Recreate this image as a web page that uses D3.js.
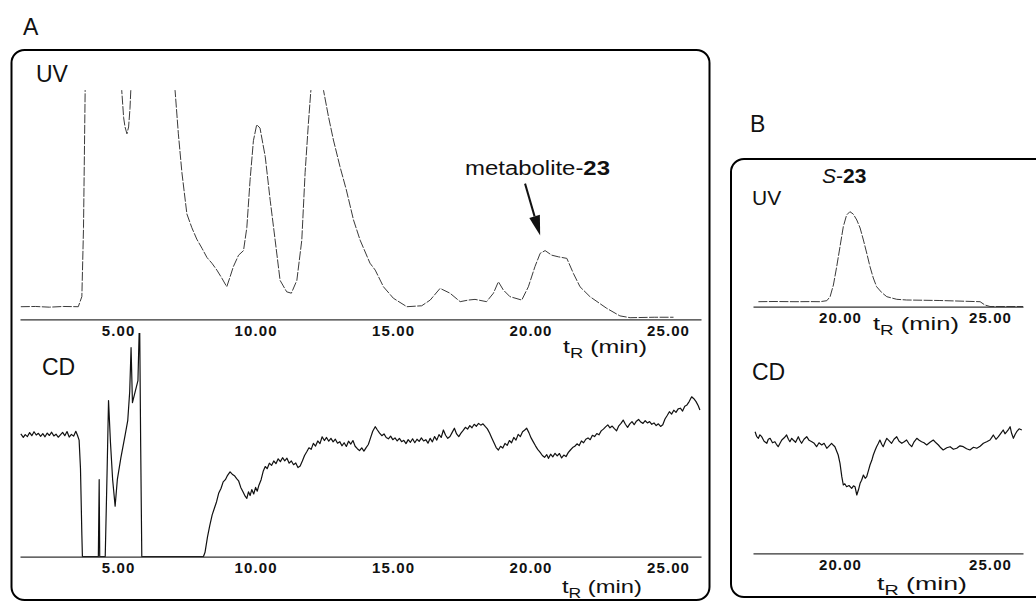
<!DOCTYPE html>
<html>
<head>
<meta charset="utf-8">
<script src="https://cdn.jsdelivr.net/npm/d3@7"></script>
<style>
  body { margin: 0; background: #fff; }
  svg { display: block; font-family: Arial, "Liberation Sans", Helvetica, sans-serif; }
</style>
</head>
<body>
<svg id="chart" width="1036" height="603"></svg>
<script>
// tick labels (min)
const ticksA = [5, 10, 15, 20, 25];
const ticksB = [20, 25];

// panel A, UV trace: [tR (min), signal]  (signal > 100 is off scale)
const uvA = [[1.46,5.5],[2.0,5.6],[2.5,5.3],[3.0,5.6],[3.55,5.5],[3.68,9.9],[3.74,40],[3.80,100],[3.85,160],[4.3,300],
  [5.0,200],[5.13,100],[5.20,88],[5.25,84],[5.32,81],[5.38,84],[5.43,92],[5.46,100],[5.6,200],[6.2,300],[6.9,160],
  [7.07,100],[7.19,81],[7.32,64],[7.5,46],[7.68,40],[7.86,35],[8.05,31],[8.23,27],[8.41,24.5],[8.59,21.5],[8.77,18],
  [8.95,14.2],[9.07,18.5],[9.19,23],[9.38,28],[9.56,30],[9.68,40],[9.80,61],[9.92,78],[10.04,85],[10.16,83.5],
  [10.35,71],[10.53,52],[10.71,34.6],[10.89,17],[11.13,12],[11.3,11.4],[11.5,17],[11.68,34.6],[11.8,64],[11.92,85.6],
  [12.01,100],[12.2,130],[12.4,110],[12.47,100],[12.65,88.5],[12.83,78.3],[13.07,66.6],[13.3,56.5],[13.56,43.4],
  [13.8,34.6],[14.16,24.5],[14.35,21.5],[14.65,14.2],[15.01,9.2],[15.5,5.5],[16.04,5.9],[16.35,8.4],[16.71,13.5],
  [17.07,11.4],[17.44,7.7],[17.74,8.4],[17.98,8.7],[18.4,7.7],[18.65,11.4],[18.83,16.4],[19.01,12.8],[19.25,9.9],
  [19.68,8.4],[19.92,14.2],[20.16,23],[20.35,28.8],[20.53,30],[20.77,28],[21.01,27.3],[21.32,26.6],[21.56,20],
  [21.8,14.2],[22.16,9.9],[22.77,4.8],[23.25,1.5],[23.62,0.7],[24.5,0.9],[25.2,0.9]];

// panel A, CD trace: [tR (min), signal]
const cdA = [[1.46,55.8],[1.55,54.2],[1.62,55.5],[1.70,54.6],[1.78,56.4],[1.86,55.0],[1.94,56.8],[2.02,55.3],[2.10,56.1],
  [2.18,54.7],[2.26,55.9],[2.34,54.5],[2.42,56.2],[2.50,55.1],[2.58,56.6],[2.66,54.9],[2.74,55.7],[2.82,54.3],[2.90,55.4],
  [2.98,56.5],[3.06,55.0],[3.14,56.9],[3.22,54.4],[3.30,55.6],[3.38,54.8],[3.46,57.0],[3.52,55.2],[3.58,53.0],[3.63,40.0],
  [3.68,10],[3.70,0],[4.28,0],[4.31,35],[4.33,0],[4.53,0],[4.60,40],[4.65,71],[4.72,52],[4.80,35],[4.89,23],[4.97,35],
  [5.10,45],[5.25,55],[5.35,62],[5.42,75],[5.47,95],[5.52,70],[5.72,80],[5.78,110],[5.82,50],[5.86,0],[8.10,0],
  [8.16,2],[8.25,9],[8.33,14],[8.42,19],[8.50,22],[8.58,25],[8.66,29],[8.74,31],[8.82,34],[8.90,35],[8.98,37],[9.07,38.6],
  [9.15,37.5],[9.23,36.8],[9.31,35.5],[9.38,34.5],[9.46,31.5],[9.54,29.5],[9.62,27.5],[9.68,26.5],[9.74,29.5],[9.80,27.8],
  [9.86,30.5],[9.93,28.5],[10.0,31.5],[10.06,29.8],[10.12,32.5],[10.20,35],[10.28,39],[10.35,41],[10.42,40],[10.50,42.5],
  [10.58,41.5],[10.66,43.5],[10.74,42.3],[10.82,44.5],[10.90,43.2],[10.98,45],[11.06,43.6],[11.14,44.8],[11.22,42.5],
  [11.30,43.5],[11.38,41.8],[11.46,42.6],[11.54,40.5],[11.62,41.2],[11.70,43.5],[11.78,46],[11.86,47.7],[11.94,49.5],
  [12.02,48.8],[12.10,51.5],[12.18,50.3],[12.26,52.6],[12.34,51.4],[12.42,54.5],[12.50,52.8],[12.58,54.2],[12.66,52.5],
  [12.74,53.8],[12.82,52.2],[12.90,53.4],[12.98,51.6],[13.06,52.3],[13.14,50.4],[13.22,51.8],[13.30,50.1],[13.38,52.5],
  [13.46,51.2],[13.54,52.8],[13.62,50.2],[13.70,49.1],[13.78,48.2],[13.86,49.5],[13.94,48.0],[14.02,49.6],[14.10,51],
  [14.18,54],[14.26,57],[14.35,59.1],[14.43,57.6],[14.51,56.2],[14.59,55.0],[14.67,55.8],[14.75,54.2],[14.83,53.6],
  [14.91,54.8],[14.99,53.2],[15.07,54.0],[15.15,52.6],[15.23,53.8],[15.31,52.3],[15.39,52.9],[15.47,51.4],[15.55,53.2],
  [15.63,52.0],[15.71,53.6],[15.79,51.8],[15.87,53.4],[15.95,52.4],[16.03,54.0],[16.11,52.6],[16.19,53.2],[16.27,51.6],
  [16.35,53.8],[16.43,52.2],[16.51,54.6],[16.59,53.0],[16.67,55.5],[16.75,54.2],[16.83,57.6],[16.91,55.2],[16.99,53.8],
  [17.07,54.6],[17.15,56.5],[17.23,58.4],[17.31,55.8],[17.39,54.6],[17.47,56.2],[17.55,57.4],[17.63,58.8],[17.71,58.0],
  [17.79,59.6],[17.87,58.6],[17.95,60.2],[18.03,59.3],[18.11,60.6],[18.19,59.8],[18.27,60.4],[18.35,59.2],[18.43,58.1],
  [18.51,56.2],[18.59,54.0],[18.67,51.8],[18.75,49.6],[18.83,48.5],[18.91,50.2],[18.99,49.4],[19.07,51.5],[19.15,50.6],
  [19.23,52.8],[19.31,51.8],[19.39,54.2],[19.47,53.0],[19.55,55.6],[19.63,54.6],[19.71,56.8],[19.79,57.6],[19.86,58.4],
  [19.94,56.4],[20.02,54.0],[20.10,52.2],[20.18,50.4],[20.26,48.8],[20.35,47.4],[20.43,46.0],[20.51,45.2],[20.59,46.4],
  [20.65,44.7],[20.73,46.6],[20.81,45.4],[20.89,47.0],[20.97,45.8],[21.05,46.9],[21.13,44.9],[21.21,46.2],[21.29,45.5],
  [21.37,47.3],[21.45,48.5],[21.53,49.6],[21.61,50.2],[21.69,51.3],[21.77,50.5],[21.85,52.6],[21.93,51.8],[22.01,53.4],
  [22.09,54.0],[22.17,53.2],[22.25,55.2],[22.33,54.6],[22.41,56.0],[22.49,55.4],[22.57,57.2],[22.65,58.0],[22.73,59.0],
  [22.81,59.9],[22.89,58.6],[22.97,59.4],[23.05,58.2],[23.13,57.2],[23.21,59.5],[23.29,60.6],[23.37,62.1],[23.45,60.2],
  [23.53,58.8],[23.61,60.4],[23.69,61.4],[23.77,60.0],[23.85,61.6],[23.93,62.4],[24.01,61.2],[24.09,60.6],[24.17,61.8],
  [24.25,60.8],[24.33,61.4],[24.41,60.2],[24.49,60.8],[24.57,59.6],[24.65,60.4],[24.73,59.2],[24.81,60.0],[24.89,62.6],
  [24.97,64.2],[25.05,65.9],[25.13,64.8],[25.21,66.6],[25.29,65.6],[25.37,67.2],[25.45,67.5],[25.53,66.2],[25.61,68.4],
  [25.69,69.0],[25.77,70.5],[25.86,72.7],[25.94,71.8],[26.02,70.5],[26.10,68.6],[26.16,66.7]];

// panel B (S-23 standard), UV trace
const uvB = [[17.28,5],[17.8,5.2],[18.5,5],[19.0,5.1],[19.33,5],[19.56,6],[19.67,10],[19.78,21.7],[19.89,40],[20.0,60],
  [20.11,80],[20.22,91.7],[20.33,95],[20.44,92.7],[20.56,86.7],[20.67,78.7],[20.78,66.7],[20.89,53.7],[21.0,40],
  [21.11,28.7],[21.22,20],[21.39,14.2],[21.56,10],[21.89,7.4],[22.22,6.7],[23.33,6.2],[24.67,5],[24.83,1.7],[25.0,0.2],[26.1,0.2]];

// panel B, CD trace
const cdB = [[17.17,121.6],[17.22,117],[17.28,115],[17.33,118.5],[17.39,116.6],[17.47,112],[17.56,110],[17.61,114],
  [17.67,115],[17.75,110.5],[17.83,111.6],[17.88,109],[17.94,106.6],[18.0,110],[18.06,113.3],[18.14,115.5],
  [18.22,118.3],[18.28,114],[18.33,111.6],[18.39,115],[18.44,113.3],[18.52,111],[18.61,116.6],[18.66,113],
  [18.72,110],[18.8,114],[18.89,116.6],[18.97,113],[19.06,111.6],[19.14,110],[19.22,106.6],[19.3,110.5],
  [19.39,108.3],[19.47,110],[19.56,105],[19.64,107.5],[19.72,110],[19.78,108],[19.83,106.6],[19.94,98.3],[20.0,90],
  [20.06,76.6],[20.11,68.3],[20.16,69.5],[20.22,66.6],[20.3,67.8],[20.39,65],[20.45,67.5],[20.5,66.6],[20.56,58.3],
  [20.62,64],[20.67,70],[20.72,73],[20.78,78.3],[20.84,75],[20.89,76.6],[20.95,83],[21.0,88.3],[21.06,93],[21.11,98.3],
  [21.17,103],[21.22,106.6],[21.28,110],[21.33,113.3],[21.39,109],[21.44,106.6],[21.5,111],[21.56,115],[21.64,112.5],
  [21.72,110],[21.8,114],[21.89,116.6],[21.97,112],[22.06,110],[22.14,111.5],[22.22,113.3],[22.3,109.5],[22.39,106.6],
  [22.47,111.5],[22.56,115],[22.64,113],[22.72,111.6],[22.8,110.5],[22.89,108.3],[23.0,111],[23.11,113.3],[23.2,110.5],
  [23.28,108.3],[23.36,105.5],[23.44,103.3],[23.56,105.5],[23.67,106.6],[23.78,104],[23.89,105],[24.0,107.5],
  [24.11,106.6],[24.22,104.5],[24.33,103.3],[24.45,106],[24.56,105],[24.67,107],[24.78,110],[24.89,111.5],[25.0,113.3],
  [25.06,116],[25.11,118.3],[25.2,114],[25.28,116.6],[25.36,120],[25.44,123.3],[25.5,119.5],[25.56,121.6],[25.62,124],
  [25.67,126.6],[25.72,120],[25.78,115],[25.84,119],[25.89,121.6],[25.97,124.5],[26.06,123.3]];

const svg = d3.select("#chart");
svg.append("rect").attr("width", 1036).attr("height", 603).attr("fill", "#fff");

// scales
const xA = d3.scaleLinear().domain([1.43, 26.2]).range([20, 701]);
const xB = d3.scaleLinear().domain([17.1, 26.1]).range([753, 1023]);
const yUvA = d3.scaleLinear().domain([0, 100]).range([319.3, 90.3]);
const yCdA = d3.scaleLinear().domain([0, 100]).range([556.7, 336.7]);
const yUvB = d3.scaleLinear().domain([0, 100]).range([306.7, 206.7]);
const yCdB = d3.scaleLinear().domain([0, 150]).range([553.3, 403.3]);

// frames
svg.append("rect").attr("x", 11.5).attr("y", 50).attr("width", 698).attr("height", 550)
  .attr("rx", 13).attr("fill", "none").attr("stroke", "#000").attr("stroke-width", 2);
svg.append("rect").attr("x", 731).attr("y", 159).attr("width", 340).attr("height", 438)
  .attr("rx", 13).attr("fill", "none").attr("stroke", "#000").attr("stroke-width", 2);

let clipId = 0;
function trace(data, x, y, top, dashed) {
  const id = "clip" + (clipId++);
  const [x0, x1] = x.range();
  svg.append("clipPath").attr("id", id).append("rect")
    .attr("x", x0).attr("y", top).attr("width", x1 - x0).attr("height", y(0) - top + 0.5);
  const line = d3.line().x(d => x(d[0])).y(d => y(d[1]));
  svg.append("path").datum(data)
    .attr("clip-path", "url(#" + id + ")")
    .attr("d", line)
    .attr("fill", "none")
    .attr("stroke", dashed ? "#3a3a3a" : "#111")
    .attr("stroke-width", dashed ? 1 : 1.2)
    .attr("stroke-dasharray", dashed ? "9 1.5" : null)
    .attr("stroke-linejoin", "round");
}

function axis(x, y0, ticks) {
  const g = svg.append("g").attr("transform", "translate(0," + y0 + ")")
    .call(d3.axisBottom(x).tickValues(ticks).tickSize(0).tickPadding(6).tickFormat(d3.format(".2f")));
  g.select(".domain").attr("stroke", "#333").attr("stroke-width", 1.3);
  g.selectAll("text").attr("font-size", 15).attr("font-weight", "bold")
    .attr("font-family", "Arial, 'Liberation Sans', sans-serif").attr("fill", "#111")
    .attr("letter-spacing", 1.1);
}

function tR(x, y, w) {
  const t = svg.append("text").attr("x", x).attr("y", y).attr("font-size", 19).attr("fill", "#111")
    .attr("textLength", w).attr("lengthAdjust", "spacingAndGlyphs");
  t.append("tspan").text("t");
  t.append("tspan").attr("font-size", 14).attr("dy", 5).text("R");
  t.append("tspan").attr("dy", -5).text(" (min)");
}

function label(x, y, str, size) {
  svg.append("text").attr("x", x).attr("y", y).attr("font-size", size).attr("fill", "#111").text(str);
}

// panel A
trace(uvA, xA, yUvA, 90, true);
axis(xA, yUvA(0), ticksA);
trace(cdA, xA, yCdA, 333, false);
axis(xA, yCdA(0), ticksA);
tR(563, 353, 84);
tR(562, 593, 80);
label(23, 35, "A", 23);
label(36, 82, "UV", 23);
label(42, 375, "CD", 23);

// metabolite-23 annotation with arrow
const m = svg.append("text").attr("x", 465).attr("y", 175).attr("font-size", 20).attr("fill", "#111")
  .attr("textLength", 145).attr("lengthAdjust", "spacingAndGlyphs");
m.append("tspan").text("metabolite-");
m.append("tspan").attr("font-weight", "bold").text("23");
const tipX = xA(20.35), tipY = yUvA(30) - 15;
const tailX = xA(19.8), tailY = yUvA(30) - 67;
const ang = Math.atan2(tipY - tailY, tipX - tailX);
const hl = 20, hw = 5.5;
const bx = tipX - hl * Math.cos(ang), by = tipY - hl * Math.sin(ang);
svg.append("line").attr("x1", tailX).attr("y1", tailY).attr("x2", bx).attr("y2", by)
  .attr("stroke", "#111").attr("stroke-width", 2);
svg.append("path")
  .attr("d", d3.line()([[tipX, tipY],
    [bx + hw * Math.sin(ang), by - hw * Math.cos(ang)],
    [bx - hw * Math.sin(ang), by + hw * Math.cos(ang)]]) + "Z")
  .attr("fill", "#111");

// panel B
trace(uvB, xB, yUvB, 160, true);
axis(xB, yUvB(0), ticksB);
trace(cdB, xB, yCdB, 340, false);
axis(xB, yCdB(0), ticksB);
tR(873, 330, 86);
tR(877, 590, 90);
label(750, 132, "B", 23);
label(752, 205, "UV", 21);
label(752, 380, "CD", 23);
const s = svg.append("text").attr("x", 822).attr("y", 183).attr("font-size", 21).attr("fill", "#111");
s.append("tspan").attr("font-style", "italic").text("S");
s.append("tspan").text("-");
s.append("tspan").attr("font-weight", "bold").text("23");
</script>
</body>
</html>
